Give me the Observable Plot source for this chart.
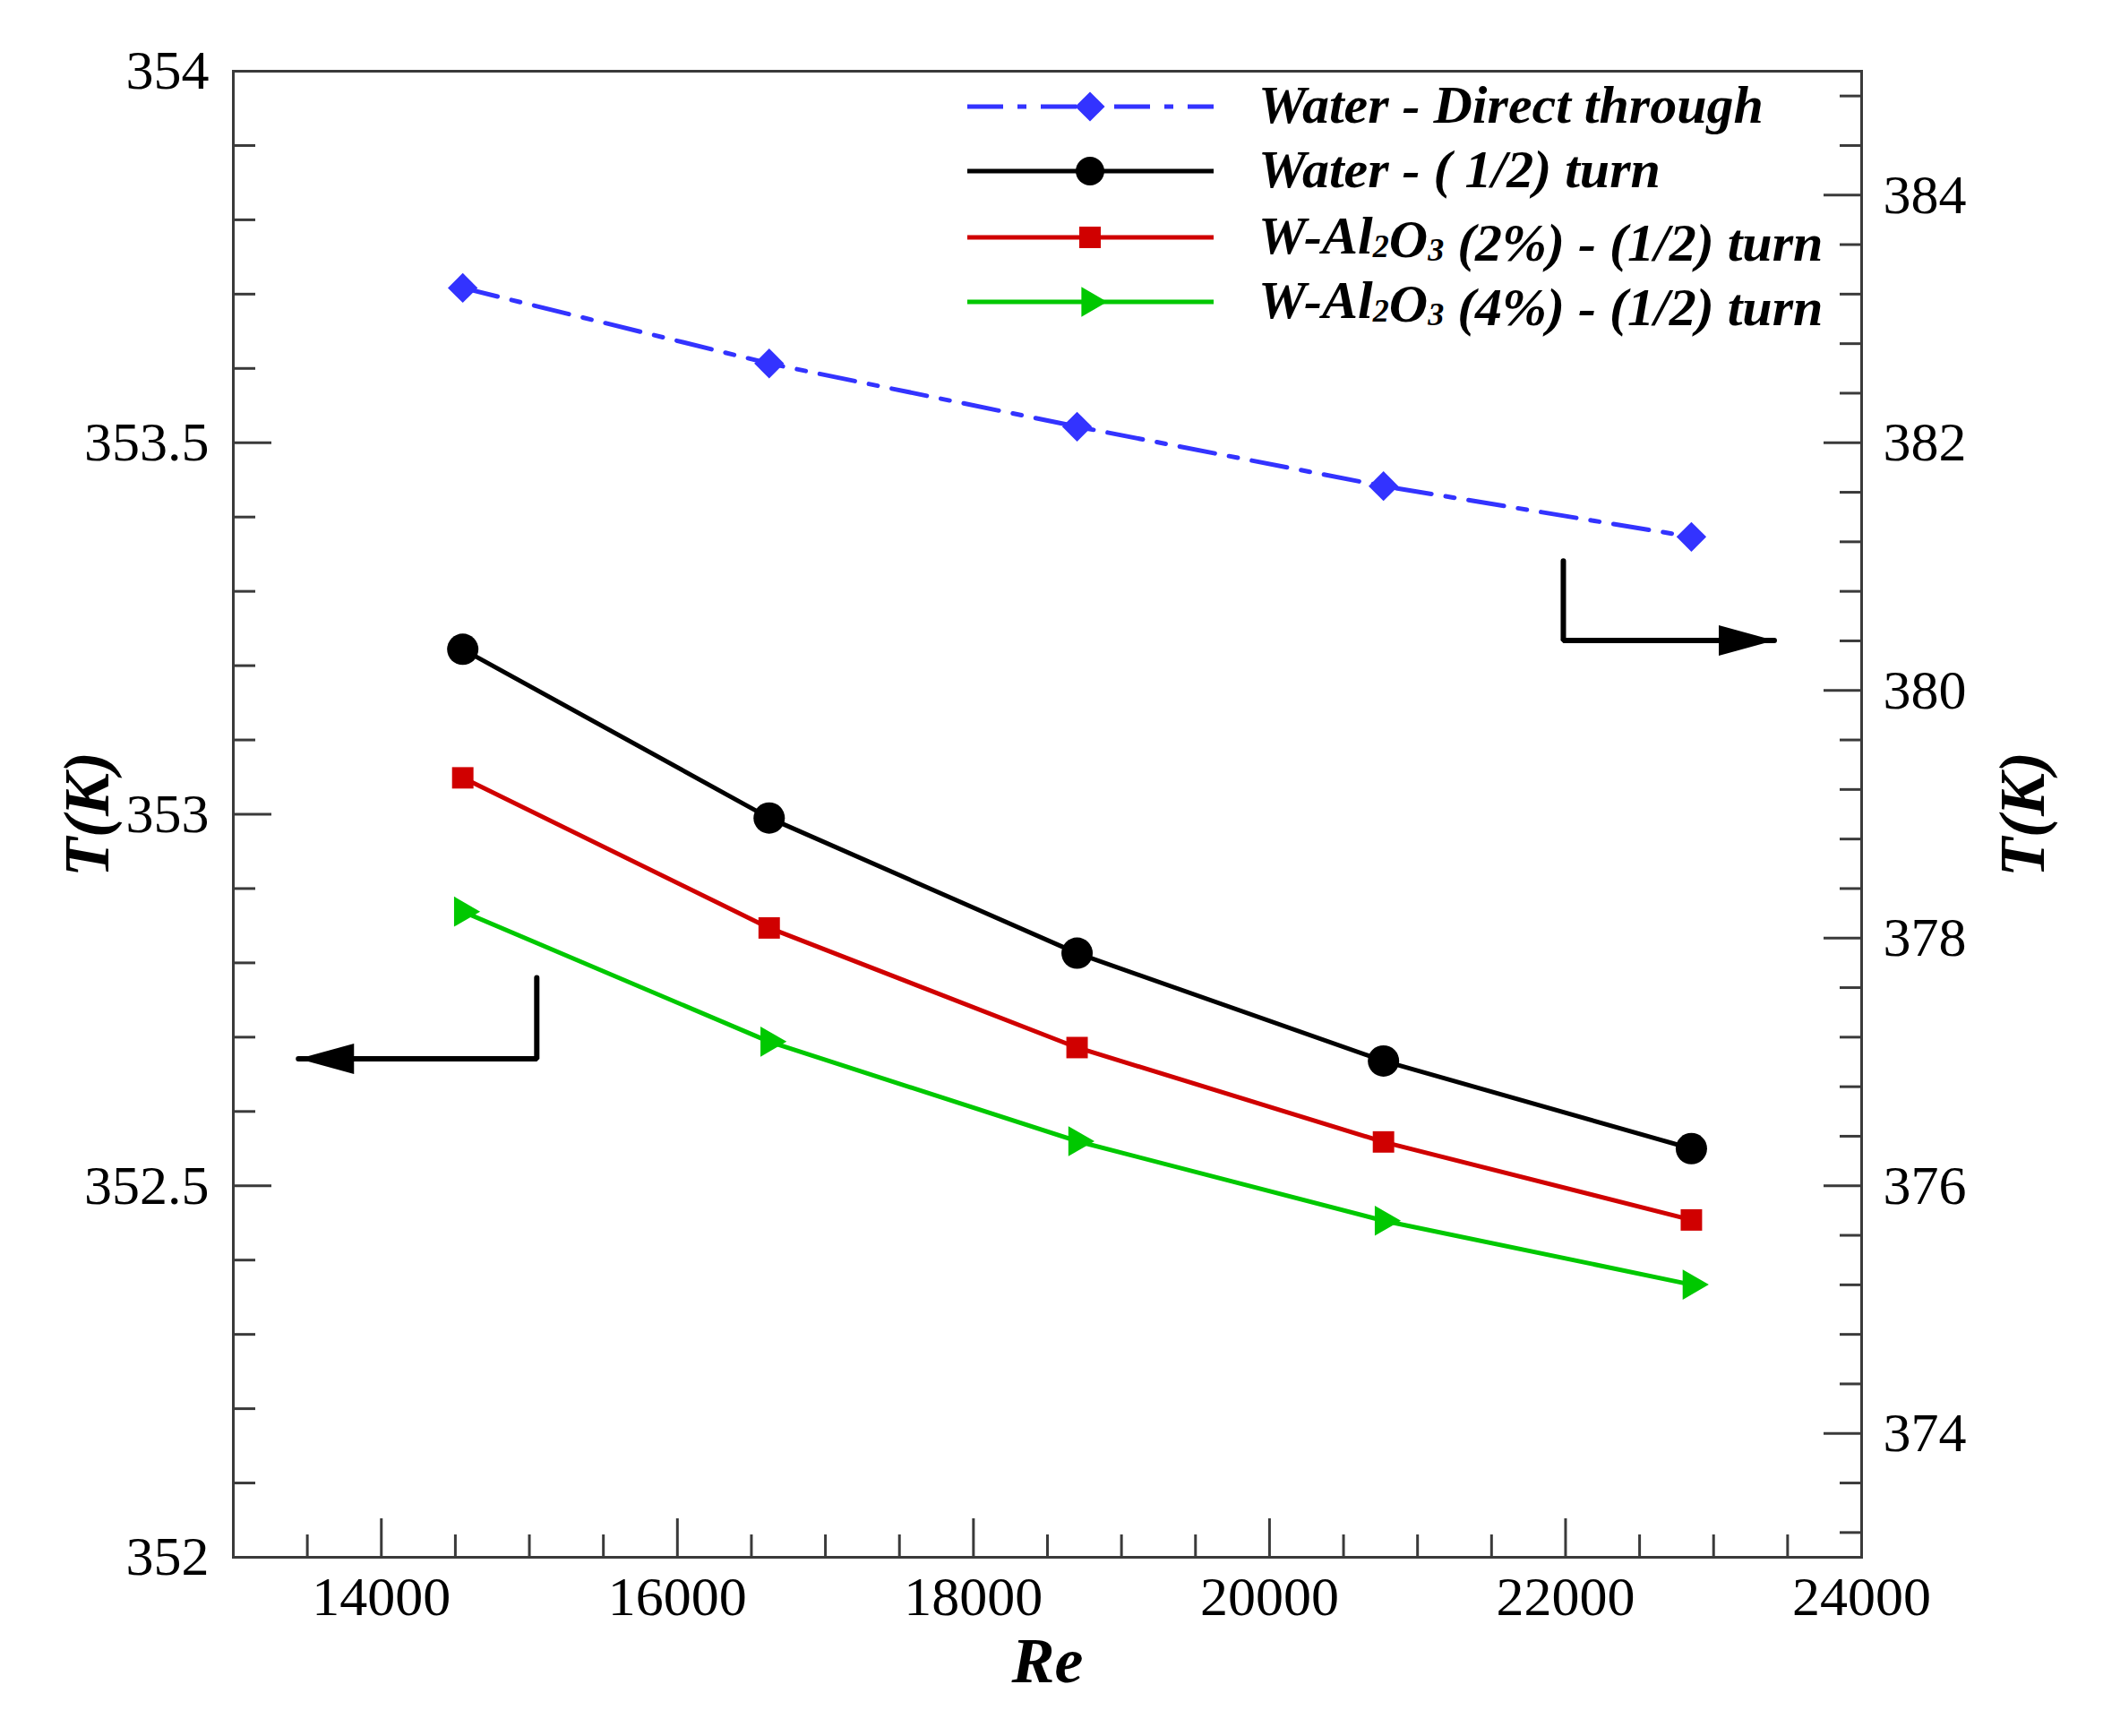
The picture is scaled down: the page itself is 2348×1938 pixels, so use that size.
<!DOCTYPE html>
<html>
<head>
<meta charset="utf-8">
<script src="https://cdn.jsdelivr.net/npm/d3@7"></script>
<script src="https://cdn.jsdelivr.net/npm/@observablehq/plot@0.6"></script>
<style>
  body { margin: 0; background: white; }
  #chart svg { display: block; }
</style>
</head>
<body>
<div id="chart"></div>
<script>
// Reynolds number (x) and outlet temperature per case
const re = [14550, 16620, 18700, 20770, 22850]
const waterDirect = [383.25, 382.64, 382.13, 381.65, 381.24]   // read on the right axis
const waterHalf = [353.222, 352.995, 352.813, 352.668, 352.550]
const al2Half = [353.049, 352.847, 352.686, 352.559, 352.454]
const al4Half = [352.869, 352.694, 352.560, 352.453, 352.367]

const legendLabels = [
  "Water - Direct through",
  "Water - ( 1/2) turn",
  "W-Al₂O₃ (2%) - (1/2) turn",
  "W-Al₂O₃ (4%) - (1/2) turn"
]

const xTicks = [14000, 16000, 18000, 20000, 22000, 24000]
const yTicks = [352, 352.5, 353, 353.5, 354]
const y2Ticks = [374, 376, 378, 380, 382, 384]

// the L-shaped arrows pointing at each axis
const arrowLeft = [{re: 15050, t: 352.780}, {re: 15050, t: 352.671}, {re: 13440, t: 352.671}]
const arrowRight = [{re: 21985, t: 353.341}, {re: 21985, t: 353.234}, {re: 23410, t: 353.234}]

const blue = "#3333ff", red = "#d00000", green = "#00c800", axisCol = "#3a3a3a"
const dashDot = "40,16,10,16"

// right axis (373..385) is mapped onto the left one (352..354)
const toLeft = v => 352 + (v - 373) / 6
const fromLeft = d => 373 + (d - 352) * 6

const xMinor = d3.range(13500, 24000, 500).filter(v => v % 2000 !== 0)
const yMinor = d3.range(0, 21).filter(i => i % 5 !== 0).map(i => 352 + i / 10)
const y2Minor = d3.range(0, 30).filter(i => (i - 2) % 5 !== 0).map(i => toLeft(373.2 + i * 0.4))

const rows = vals => re.map((x, i) => ({re: x, t: vals[i]}))
const blueRows = rows(waterDirect.map(toLeft))
const blackRows = rows(waterHalf)
const redRows = rows(al2Half)
const greenRows = rows(al4Half)

const arrowHead = {
  draw(ctx) {
    ctx.moveTo(0, 0)
    ctx.lineTo(-62, -17)
    ctx.lineTo(-62, 17)
    ctx.closePath()
  }
}

const tickOpts = {stroke: axisCol, strokeWidth: 3, fill: "none", label: null}
const titleOpts = {text: d => d, fontSize: 72, fontWeight: "bold", fontStyle: "italic",
  textAnchor: "middle", lineAnchor: "middle"}

const chart = Plot.plot({
  width: 2348,
  height: 1938,
  marginLeft: 260,
  marginRight: 270,
  marginTop: 79,
  marginBottom: 200,
  style: {fontFamily: "Liberation Serif", fontSize: "62px", background: "white"},
  x: {domain: [13000, 24000], axis: null},
  y: {domain: [352, 354], axis: null},
  marks: [
    // ticks pointing inward
    Plot.axisX(xTicks, {...tickOpts, tickSize: 43, insetBottom: 43}),
    Plot.axisX(xMinor, {...tickOpts, tickSize: 25, insetBottom: 25}),
    Plot.axisY(yTicks, {...tickOpts, anchor: "left", tickSize: 43, insetLeft: 43}),
    Plot.axisY(yMinor, {...tickOpts, anchor: "left", tickSize: 25, insetLeft: 25}),
    Plot.axisY(y2Ticks.map(toLeft), {...tickOpts, anchor: "right", tickSize: 43, insetRight: 43}),
    Plot.axisY(y2Minor, {...tickOpts, anchor: "right", tickSize: 25, insetRight: 25}),
    // tick labels
    Plot.axisX(xTicks, {tickSize: 0, tickPadding: 20, tickFormat: d => String(d), label: null, fill: "black"}),
    Plot.axisY(yTicks, {anchor: "left", tickSize: 0, tickPadding: 27, tickFormat: d => String(d), label: null, fill: "black"}),
    Plot.axisY(y2Ticks.map(toLeft), {anchor: "right", tickSize: 0, tickPadding: 24,
      tickFormat: d => String(Math.round(fromLeft(d))), label: null, fill: "black"}),
    Plot.frame({stroke: axisCol, strokeWidth: 3}),
    // axis titles
    Plot.text(["Re"], {...titleOpts, frameAnchor: "bottom", dy: 116}),
    Plot.text(["T(K)"], {...titleOpts, frameAnchor: "left", dx: -163, rotate: -90}),
    Plot.text(["T(K)"], {...titleOpts, frameAnchor: "right", dx: 180, rotate: -90}),
    // series
    Plot.line(blueRows, {x: "re", y: "t", stroke: blue, strokeWidth: 5, strokeDasharray: dashDot}),
    Plot.dot(blueRows, {x: "re", y: "t", symbol: "diamond2", r: 15, fill: blue}),
    Plot.line(blackRows, {x: "re", y: "t", stroke: "black", strokeWidth: 5}),
    Plot.dot(blackRows, {x: "re", y: "t", symbol: "circle", r: 17.5, fill: "black"}),
    Plot.line(redRows, {x: "re", y: "t", stroke: red, strokeWidth: 5}),
    Plot.dot(redRows, {x: "re", y: "t", symbol: "square", r: 13.5, fill: red}),
    Plot.line(greenRows, {x: "re", y: "t", stroke: green, strokeWidth: 5}),
    Plot.dot(greenRows, {x: "re", y: "t", symbol: "triangle", r: 12.5, rotate: 90, fill: green}),
    // arrows
    Plot.line(arrowLeft, {x: "re", y: "t", stroke: "black", strokeWidth: 6, strokeLinejoin: "miter"}),
    Plot.dot(arrowLeft.slice(-1), {x: "re", y: "t", symbol: arrowHead, rotate: 180, fill: "black"}),
    Plot.line(arrowRight, {x: "re", y: "t", stroke: "black", strokeWidth: 6, strokeLinejoin: "miter"}),
    Plot.dot(arrowRight.slice(-1), {x: "re", y: "t", symbol: arrowHead, fill: "black"})
  ]
})

document.getElementById("chart").append(chart)

// legend in the top right corner of the frame
const legendStyle = [
  {color: blue, symbol: d3.symbolDiamond2, size: 700, dash: dashDot, rotate: 0},
  {color: "black", symbol: d3.symbolCircle, size: 800, dash: null, rotate: 0},
  {color: red, symbol: d3.symbolSquare, size: 576, dash: null, rotate: 0},
  {color: green, symbol: d3.symbolTriangle, size: 480, dash: null, rotate: 90}
]
const rowY = [119, 191, 265, 337]
const lg = d3.select(chart).append("g")
  .attr("font-family", "Liberation Serif")
  .attr("font-weight", "bold")
  .attr("font-style", "italic")
  .attr("font-size", 60)
  .attr("text-anchor", "start")

legendLabels.forEach((label, i) => {
  const s = legendStyle[i], y = rowY[i]
  lg.append("line")
    .attr("x1", 1080).attr("x2", 1355).attr("y1", y).attr("y2", y)
    .attr("stroke", s.color).attr("stroke-width", 5)
    .attr("stroke-dasharray", s.dash)
  lg.append("path")
    .attr("d", d3.symbol(s.symbol, s.size)())
    .attr("transform", `translate(1217,${y}) rotate(${s.rotate})`)
    .attr("fill", s.color)
  const t = lg.append("text").attr("x", 1405).attr("y", y + 18).attr("fill", "black")
  label.split(/([₂₃])/).forEach(part => {
    if (part === "₂" || part === "₃") {
      t.append("tspan").attr("font-size", 36).attr("dy", 4).text(part === "₂" ? "2" : "3")
      t.append("tspan").attr("dy", -4).text("")
    } else if (part) {
      t.append("tspan").text(part)
    }
  })
})
</script>
</body>
</html>
